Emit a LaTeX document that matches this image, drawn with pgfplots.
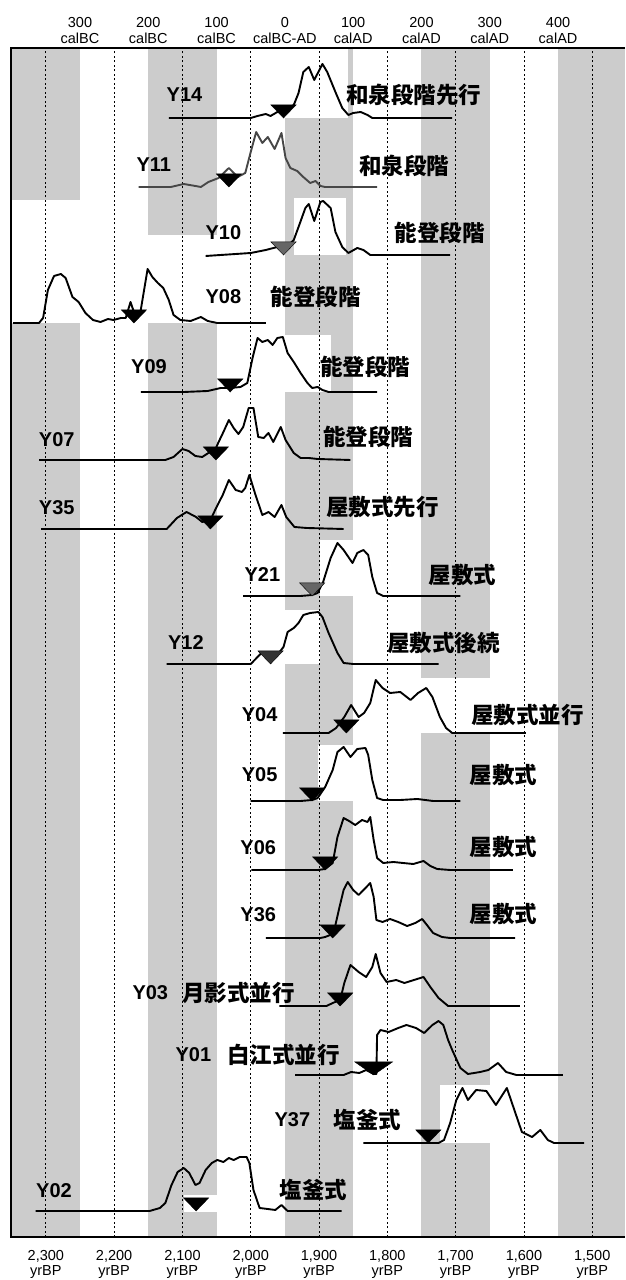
\documentclass[border=0pt]{standalone}
\usepackage{fontspec}
\setmainfont{Liberation Sans}
\newfontfamily\jp{Noto Sans CJK JP}
\usepackage{pgfplots}
\pgfplotsset{compat=1.18}
\definecolor{band}{gray}{0.8}
\pgfplotsset{
  curve/.style={line width=1.9pt, black, line join=round},
  tri/.style={only marks, mark=triangle*, mark size=14.5pt},
  band/.style={on layer=axis background, fill=band, draw=none},
  patch/.style={on layer=axis background, fill=white, draw=none},
}
\begin{document}
\begin{tikzpicture}[
  lab/.style={font=\bfseries\fontsize{20}{20}\selectfont, inner sep=0pt},
  jlab/.style={font=\jp\bfseries\fontsize{22.5}{22.5}\selectfont, inner sep=0pt},
  top/.style={anchor=south, align=center, inner sep=0pt, yshift=4pt,
    font=\fontsize{14.5}{16.5}\selectfont}]
\begin{axis}[name=ax, set layers, scale only axis, width=614pt, height=1189pt,
  x dir=reverse, xmin=1452, xmax=2351, ymin=-1237, ymax=-48,
  axis line style={draw=none}, ytick=\empty,
  xtick={1500,1600,...,2300},
  xticklabels={{1,500\\yrBP},{1,600\\yrBP},{1,700\\yrBP},{1,800\\yrBP},{1,900\\yrBP},
    {2,000\\yrBP},{2,100\\yrBP},{2,200\\yrBP},{2,300\\yrBP}},
  xticklabel style={align=center, font=\fontsize{14.5}{15.5}\selectfont, inner sep=0pt, yshift=-13pt},
  major tick length=0pt,
  xmajorgrids, grid style={black, line width=0.7pt, dash pattern=on 2pt off 2.5pt},
  clip=false]

% calendar century bands
\addplot[band] coordinates {(2351,-1237)(2250,-1237)(2250,-48)(2351,-48)};
\addplot[band] coordinates {(2150,-1237)(2050,-1237)(2050,-48)(2150,-48)};
\addplot[band] coordinates {(1950,-1237)(1850,-1237)(1850,-48)(1950,-48)};
\addplot[band] coordinates {(1750,-1237)(1650,-1237)(1650,-48)(1750,-48)};
\addplot[band] coordinates {(1550,-1237)(1452,-1237)(1452,-48)(1550,-48)};

% white backgrounds of the pasted plots
\addplot[patch] coordinates {(1971,-118)(1858,-118)(1858,-48)(1971,-48)};
\addplot[patch] coordinates {(2351,-323)(2250,-323)(2250,-200)(2351,-200)};
\addplot[patch] coordinates {(2250,-323)(2000,-323)(2000,-235)(2250,-235)};
\addplot[patch] coordinates {(1937,-255)(1861,-255)(1861,-198)(1937,-198)};
\addplot[patch] coordinates {(2000,-392)(1883,-392)(1883,-335)(2000,-335)};
\addplot[patch] coordinates {(1898,-596)(1810,-596)(1810,-540)(1898,-540)};
\addplot[patch] coordinates {(1993,-664)(1898,-664)(1898,-610)(1993,-610)};
\addplot[patch] coordinates {(1850,-733)(1635,-733)(1635,-678)(1850,-678)};
\addplot[patch] coordinates {(1902,-801)(1803,-801)(1803,-745)(1902,-745)};
\addplot[patch] coordinates {(1723,-1143)(1556,-1143)(1556,-1085)(1723,-1085)};
\addplot[patch] coordinates {(2097,-1212)(2047,-1212)(2047,-1195)(2097,-1195)};

% Y14
\addplot[curve] coordinates {(2120,-118)(2000,-118)(1990,-116)(1978,-114)(1971,-116)(1961,-112)
  (1952,-110)(1937,-105)(1930,-93)(1923,-72)(1915,-67)(1907,-80)(1895,-64)(1888,-72)(1876,-92)
  (1866,-108)(1857,-115)(1850,-113)(1839,-112)(1829,-115)(1822,-118)(1705,-118)};
% Y11
\addplot[curve, black!72] coordinates {(2164,-187)(2117,-187)(2098,-184)(2081,-186)(2073,-187)
  (2062,-182)(2047,-178)(2032,-168)(2019,-177)(2008,-173)(2000,-152)(1992,-132)(1983,-143)
  (1975,-137)(1965,-149)(1955,-133)(1949,-158)(1942,-168)(1932,-171)(1923,-177)(1913,-183)
  (1905,-181)(1898,-186)(1891,-187)(1815,-187)};
% Y10
\addplot[curve] coordinates {(2066,-256)(2000,-253)(1978,-250)(1961,-247)(1952,-250)(1937,-240)
  (1930,-227)(1920,-208)(1915,-204)(1907,-221)(1898,-202)(1894,-201)(1883,-208)(1876,-232)
  (1866,-247)(1857,-253)(1844,-248)(1835,-250)(1825,-255)(1708,-255)};
% Y08
\addplot[curve] coordinates {(2348,-323)(2310,-323)(2304,-318)(2297,-290)(2288,-276)(2278,-274)
  (2271,-278)(2261,-297)(2252,-302)(2242,-313)(2231,-320)(2220,-322)(2209,-319)(2201,-320)
  (2190,-318)(2183,-318)(2176,-302)(2168,-318)(2161,-310)(2151,-269)(2144,-277)(2136,-283)
  (2128,-288)(2120,-300)(2113,-315)(2103,-320)(2088,-321)(2073,-317)(2063,-321)(2049,-323)
  (1978,-323)};
% Y09
\addplot[curve] coordinates {(2161,-392)(2098,-392)(2063,-391)(2044,-388)(2030,-388)(2015,-387)
  (2005,-383)(1997,-357)(1990,-338)(1983,-342)(1975,-340)(1968,-345)(1961,-338)(1953,-337)
  (1946,-353)(1937,-362)(1927,-373)(1917,-383)(1910,-388)(1902,-387)(1895,-390)(1886,-392)
  (1815,-392)};
% Y07
\addplot[curve] coordinates {(2310,-460)(2125,-460)(2113,-457)(2100,-449)(2091,-451)(2081,-456)
  (2071,-457)(2062,-453)(2051,-448)(2047,-442)(2040,-432)(2032,-420)(2025,-428)(2018,-434)
  (2011,-427)(2003,-408)(1996,-408)(1989,-437)(1981,-438)(1974,-433)(1967,-442)(1956,-427)
  (1949,-440)(1937,-453)(1927,-458)(1915,-458)(1902,-459)(1854,-460)};
% Y35
\addplot[curve] coordinates {(2307,-529)(2123,-529)(2108,-518)(2094,-512)(2080,-517)(2071,-522)
  (2059,-520)(2050,-507)(2041,-495)(2032,-480)(2022,-490)(2013,-492)(2008,-488)(2002,-475)
  (1993,-495)(1983,-515)(1974,-512)(1965,-517)(1955,-505)(1948,-517)(1936,-527)(1918,-528)
  (1864,-529)};
% Y21
\addplot[curve] coordinates {(2011,-596)(1927,-596)(1910,-595)(1902,-593)(1894,-582)(1883,-558)
  (1873,-543)(1864,-550)(1851,-563)(1844,-553)(1835,-550)(1828,-555)(1822,-577)(1815,-593)
  (1806,-596)(1693,-596)};
% Y12
\addplot[curve] coordinates {(2123,-664)(2000,-664)(1990,-657)(1983,-652)(1968,-652)(1959,-653)
  (1952,-647)(1946,-632)(1937,-628)(1930,-623)(1923,-615)(1913,-613)(1901,-612)(1895,-617)
  (1886,-633)(1873,-653)(1864,-663)(1850,-664)(1725,-664)};
% Y04
\addplot[curve] coordinates {(1953,-733)(1886,-733)(1875,-728)(1863,-717)(1853,-705)(1842,-717)
  (1834,-713)(1825,-703)(1817,-680)(1807,-688)(1796,-693)(1781,-692)(1766,-700)(1755,-693)
  (1743,-688)(1734,-697)(1723,-717)(1714,-728)(1705,-733)(1597,-733)};
% Y05
\addplot[curve] coordinates {(2000,-801)(1927,-801)(1910,-800)(1902,-798)(1891,-787)(1880,-770)
  (1873,-752)(1864,-747)(1854,-757)(1844,-749)(1832,-748)(1828,-755)(1822,-780)(1815,-798)
  (1806,-800)(1781,-800)(1756,-799)(1733,-801)(1693,-801)};
% Y06
\addplot[curve] coordinates {(1999,-870)(1902,-870)(1891,-869)(1880,-863)(1873,-837)(1864,-818)
  (1856,-821)(1847,-825)(1837,-820)(1829,-822)(1825,-817)(1820,-840)(1815,-858)(1806,-863)
  (1791,-862)(1777,-863)(1762,-864)(1747,-861)(1737,-866)(1727,-869)(1708,-870)(1616,-870)};
% Y36
\addplot[curve] coordinates {(1978,-938)(1898,-938)(1891,-937)(1880,-934)(1876,-925)(1870,-907)
  (1864,-890)(1858,-882)(1850,-890)(1842,-895)(1832,-888)(1825,-883)(1820,-897)(1816,-920)
  (1807,-922)(1796,-919)(1784,-922)(1771,-926)(1759,-923)(1749,-919)(1742,-925)(1733,-933)
  (1720,-937)(1708,-938)(1613,-938)};
% Y03
\addplot[curve] coordinates {(1958,-1006)(1889,-1006)(1880,-1003)(1869,-1000)(1863,-983)(1854,-965)
  (1842,-972)(1831,-977)(1822,-967)(1817,-954)(1810,-973)(1801,-982)(1787,-980)(1775,-983)
  (1761,-980)(1747,-977)(1737,-987)(1725,-998)(1711,-1006)(1606,-1006)};
% Y01
\addplot[curve] coordinates {(1935,-1075)(1864,-1075)(1853,-1072)(1841,-1073)(1831,-1070)(1820,-1074)
  (1816,-1074)(1815,-1035)(1810,-1030)(1798,-1032)(1784,-1028)(1772,-1025)(1758,-1028)(1746,-1033)
  (1734,-1025)(1725,-1021)(1718,-1025)(1711,-1040)(1705,-1050)(1693,-1068)(1682,-1074)(1664,-1072)
  (1652,-1070)(1638,-1063)(1626,-1072)(1611,-1075)(1543,-1075)};
% Y37
\addplot[curve] coordinates {(1835,-1143)(1725,-1143)(1717,-1140)(1708,-1123)(1699,-1100)(1690,-1088)
  (1682,-1100)(1670,-1090)(1655,-1091)(1641,-1105)(1625,-1088)(1614,-1110)(1603,-1132)(1588,-1137)
  (1576,-1130)(1565,-1140)(1556,-1143)(1512,-1143)};
% Y02
\addplot[curve] coordinates {(2315,-1211)(2148,-1211)(2133,-1208)(2125,-1203)(2116,-1185)(2107,-1172)
  (2098,-1168)(2090,-1173)(2081,-1185)(2075,-1183)(2066,-1170)(2057,-1163)(2049,-1160)(2040,-1162)
  (2032,-1158)(2025,-1160)(2016,-1157)(2006,-1157)(2002,-1163)(1996,-1190)(1987,-1208)(1975,-1209)
  (1964,-1210)(1955,-1205)(1946,-1211)(1867,-1211)};

% boundary markers (downward triangles, tip on the baseline)
\addplot[tri, mark options={rotate=180, yscale=0.6, draw=none, fill=black}] coordinates {
  (1952,-109.3)(2032,-178.3)(2171,-314.3)(2030,-383.3)(2051,-451.3)(2059,-520.3)(1860,-724.3)
  (1910,-792.3)(1891,-861.3)(1880,-929.3)(1869,-997.3)(1740,-1134.3)(2080,-1202.3)};
\addplot[tri, mark options={rotate=180, yscale=0.6, draw=none, fill=black!60}] coordinates {
  (1952,-246.3)(1910,-587.3)};
\addplot[tri, mark options={rotate=180, yscale=0.6, draw=none, fill=black!80}] coordinates {
  (1971,-655.3)};
\addplot[tri, mark options={rotate=180, yscale=0.6, xscale=1.5, draw=none, fill=black}] coordinates {
  (1820,-1066.3)};

% calendar scale on top
\node[top] at (axis cs:2250,-48) {300\\calBC};
\node[top] at (axis cs:2150,-48) {200\\calBC};
\node[top] at (axis cs:2050,-48) {100\\calBC};
\node[top] at (axis cs:1950,-48) {0\\calBC-AD};
\node[top] at (axis cs:1850,-48) {100\\calAD};
\node[top] at (axis cs:1750,-48) {200\\calAD};
\node[top] at (axis cs:1650,-48) {300\\calAD};
\node[top] at (axis cs:1550,-48) {400\\calAD};

% sample labels
\node[lab] at (axis cs:2097,-95) {Y14};
\node[jlab] at (axis cs:1761,-95) {和泉段階先行};
\node[lab] at (axis cs:2142,-165) {Y11};
\node[jlab] at (axis cs:1775,-166) {和泉段階};
\node[lab] at (axis cs:2040,-233) {Y10};
\node[jlab] at (axis cs:1723,-233) {能登段階};
\node[lab] at (axis cs:2040,-297) {Y08};
\node[jlab] at (axis cs:1905,-297) {能登段階};
\node[lab] at (axis cs:2149,-367) {Y09};
\node[jlab] at (axis cs:1832,-367) {能登段階};
\node[lab] at (axis cs:2284,-440) {Y07};
\node[jlab] at (axis cs:1828,-437) {能登段階};
\node[lab] at (axis cs:2284,-508) {Y35};
\node[jlab] at (axis cs:1807,-507) {屋敷式先行};
\node[lab] at (axis cs:1983,-575) {Y21};
\node[jlab] at (axis cs:1690,-575) {屋敷式};
\node[lab] at (axis cs:2095,-643) {Y12};
\node[jlab] at (axis cs:1718,-643) {屋敷式後続};
\node[lab] at (axis cs:1987,-715) {Y04};
\node[jlab] at (axis cs:1595,-715) {屋敷式並行};
\node[lab] at (axis cs:1987,-775) {Y05};
\node[jlab] at (axis cs:1630,-775) {屋敷式};
\node[lab] at (axis cs:1989,-848) {Y06};
\node[jlab] at (axis cs:1630,-847) {屋敷式};
\node[lab] at (axis cs:1989,-915) {Y36};
\node[jlab] at (axis cs:1630,-914) {屋敷式};
\node[lab] at (axis cs:2147,-993) {Y03};
\node[jlab] at (axis cs:2018,-993) {月影式並行};
\node[lab] at (axis cs:2084,-1055) {Y01};
\node[jlab] at (axis cs:1952,-1055) {白江式並行};
\node[lab] at (axis cs:1939,-1120) {Y37};
\node[jlab] at (axis cs:1829,-1120) {塩釜式};
\node[lab] at (axis cs:2288,-1191) {Y02};
\node[jlab] at (axis cs:1908,-1190) {塩釜式};
\end{axis}
\draw[line width=2.2pt] (ax.north east) -- (ax.north west) -- (ax.south west) -- (ax.south east);
\pgfresetboundingbox
\path[use as bounding box] ([xshift=-11pt,yshift=-43pt]ax.south west) rectangle ([yshift=48pt]ax.north east);
\end{tikzpicture}
\end{document}
